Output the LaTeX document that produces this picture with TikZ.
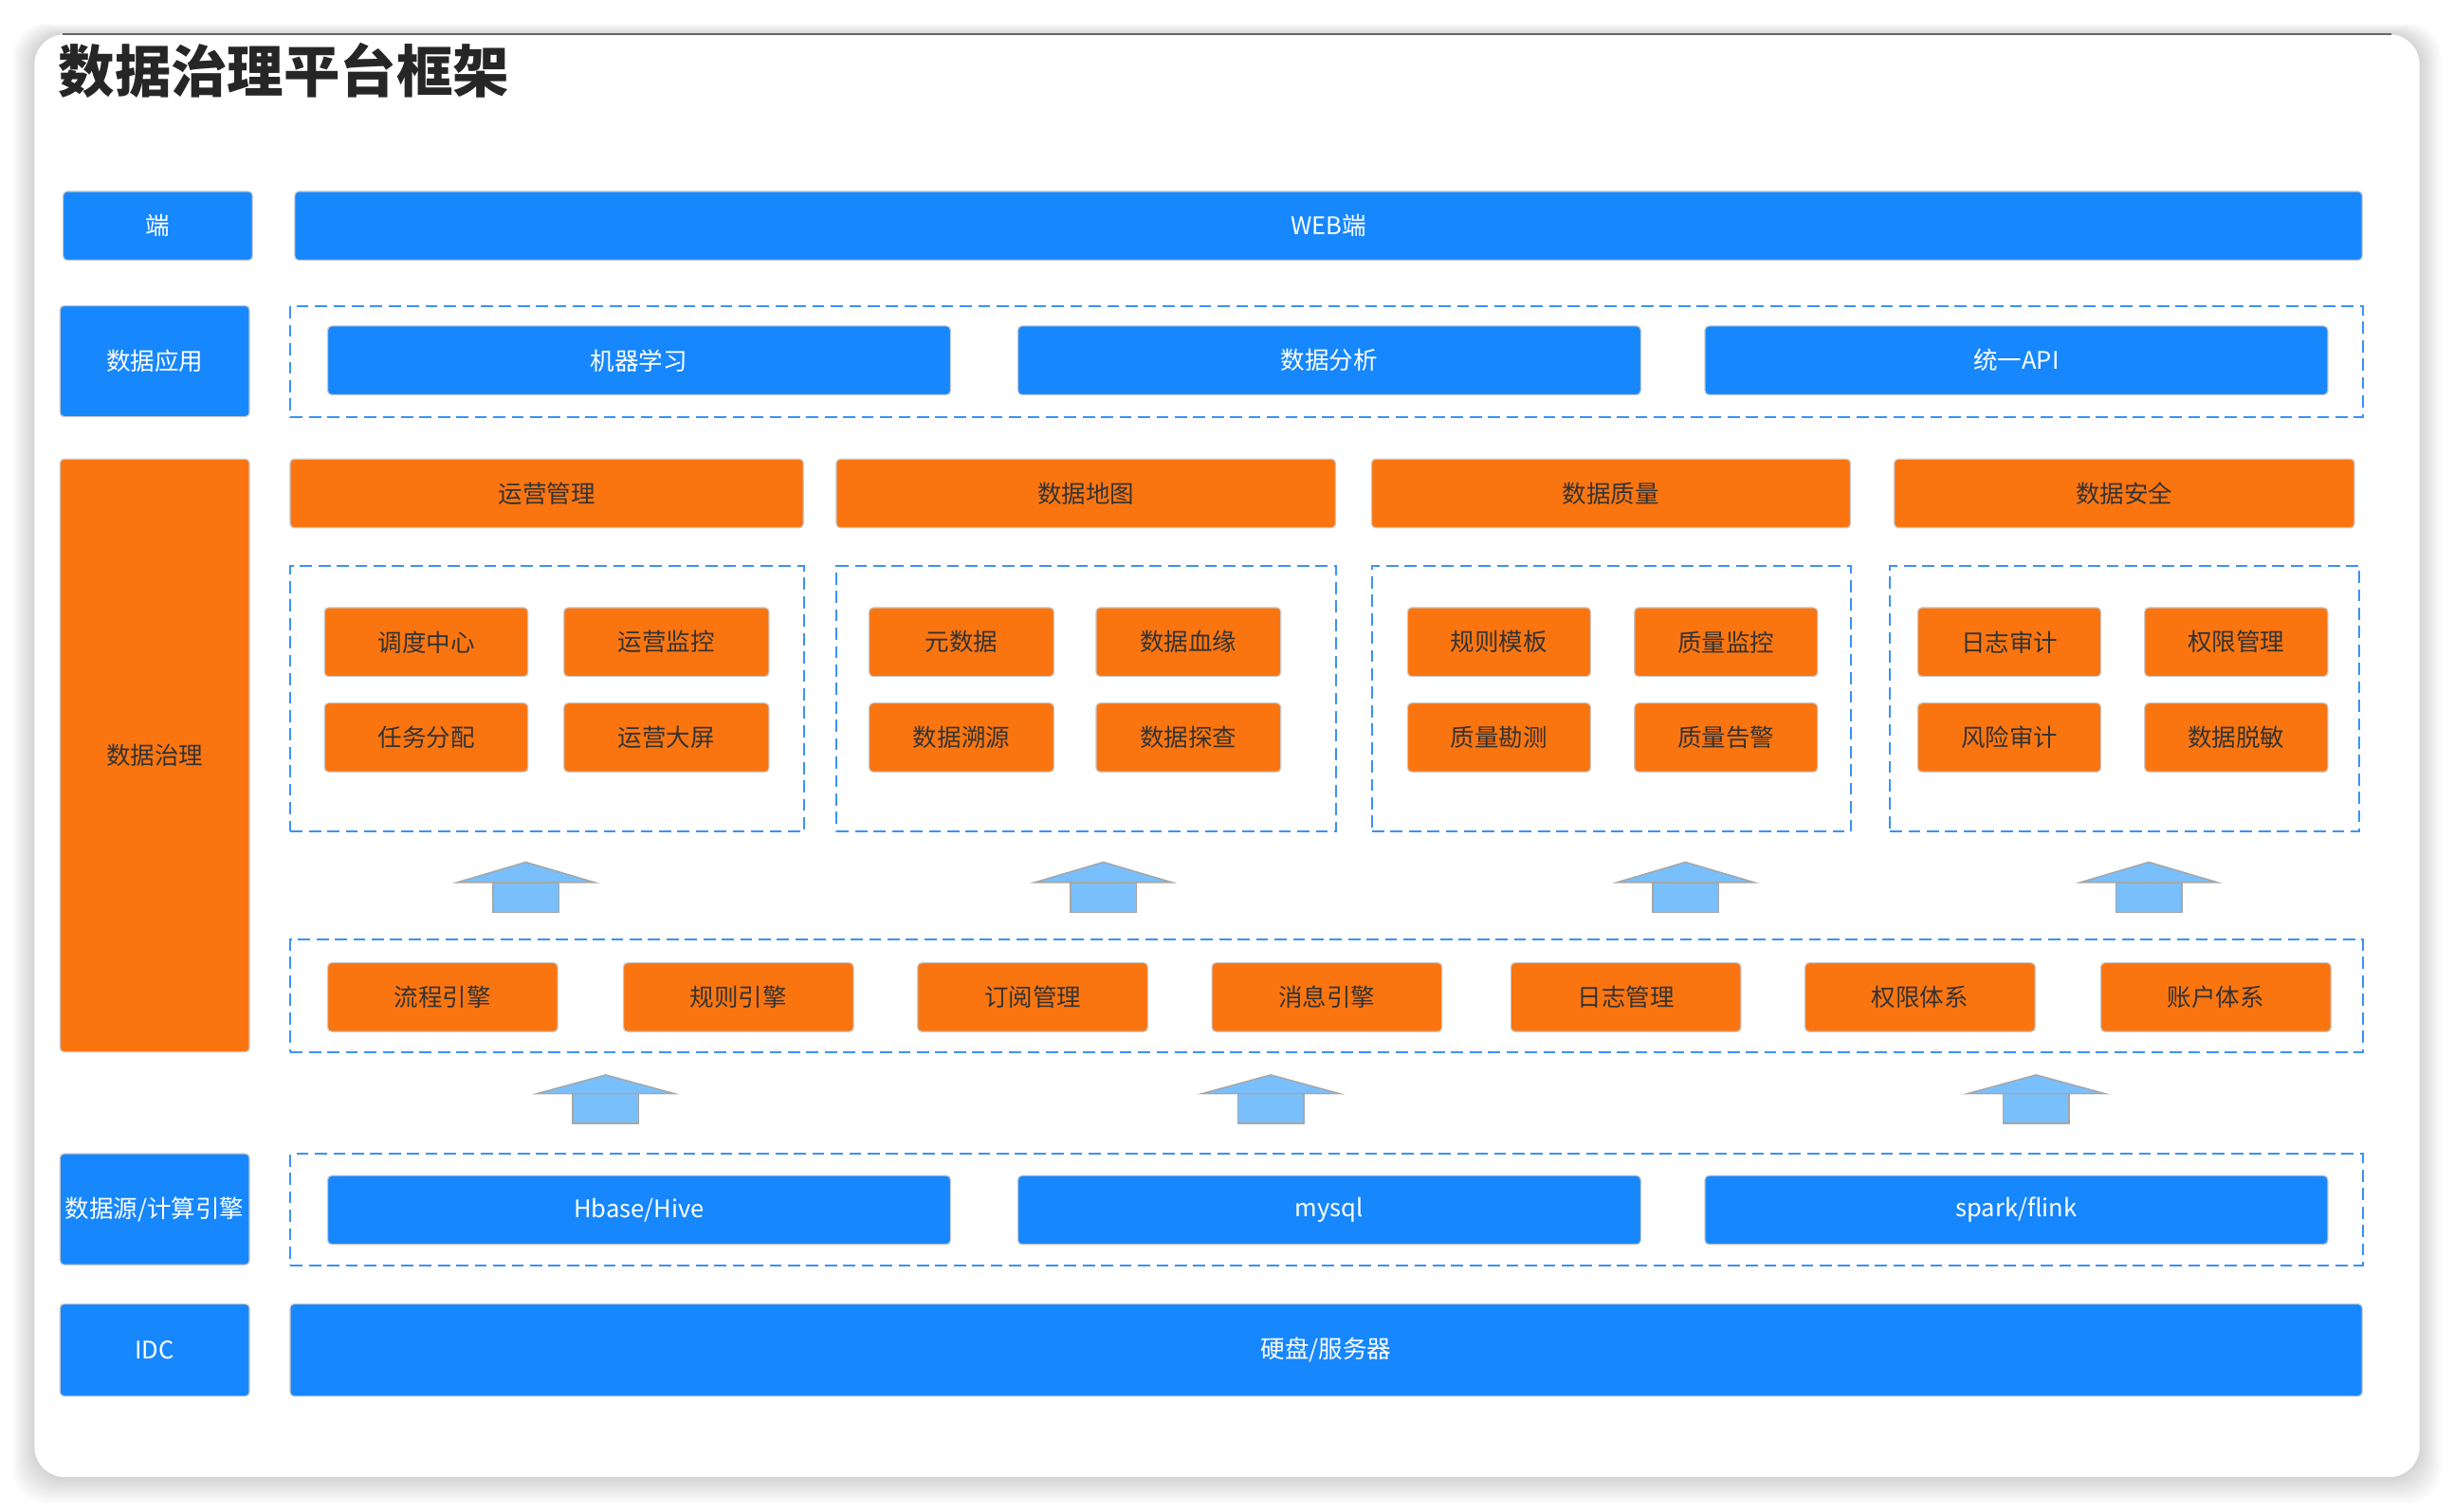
\documentclass[tikz,border=0pt]{standalone}
\usepackage{fontspec}
\setmainfont{Noto Sans CJK SC}
\usetikzlibrary{positioning}
\definecolor{cblue}{HTML}{1787FE}
\definecolor{corange}{HTML}{FA7510}
\definecolor{carrow}{HTML}{79BFFC}
\definecolor{cdash}{HTML}{3A92F6}
\definecolor{cedge}{HTML}{C9C9C9}
\definecolor{ctext}{HTML}{333333}
\definecolor{ctitle}{HTML}{262626}
\tikzset{
  every picture/.style={font=\fontsize{8.8}{10}\selectfont},
  dims/.style 2 args={minimum width=#1*0.02cm, minimum height=#2*0.02cm},
  blk/.style={draw=cedge, line width=0.4pt, rounded corners=1.5pt, inner sep=0pt, anchor=north west},
  bluebox/.style={blk, fill=cblue, text=white},
  orangebox/.style={blk, fill=corange, text=ctext},
  frame/.style={draw=cdash, line width=0.7pt, dash pattern=on 4.4pt off 2.3pt, inner sep=0pt, anchor=north west},
  uparrow/.style={fill=carrow, draw=black!35, line width=0.5pt},
  title/.style={font=\fontsize{20.5}{24}\selectfont\bfseries, text=ctitle, inner sep=0pt},
}

\begin{document}
\begin{tikzpicture}[x=0.02cm, y=-0.02cm]
  \useasboundingbox (0,0) rectangle (1568,966);
  \fill[white] (0,0) rectangle (1568,966);
  % card with soft shadow
  \foreach \s in {1,...,14}
    \fill[black, opacity=0.011, rounded corners=12pt] (22-\s,22-\s/2) rectangle (1546+\s,944+1.2*\s);
  \fill[white, rounded corners=11pt] (22,22) rectangle (1546,944);
  \draw[black!60, line width=0.8pt] (40,22) -- (1528,22);
  \node[title, anchor=west] (title) at (37,45) {数据治理平台框架};

  % 端
  \node[bluebox, dims={121}{44}] (lblEnd) at (40,122) {端};
  \node[bluebox, dims={1321}{44}] (web) at (188,122) {WEB端};

  % 数据应用
  \node[bluebox, dims={121}{71}] (lblApp) at (38,195) {数据应用};
  \node[frame, dims={1324}{71}] (appFrame) at (185,195) {};
  \foreach \x/\n/\t in {209/ml/机器学习, 650/ana/数据分析, 1089/api/统一API}
    \node[bluebox, dims={398}{44}] (\n) at (\x,208) {\t};

  % 数据治理
  \node[orangebox, dims={121}{379}] (lblGov) at (38,293) {数据治理};
  \foreach \x/\w/\n/\t in {185/328/ops/运营管理, 534/319/map/数据地图, 876/306/qual/数据质量, 1210/294/sec/数据安全}
    \node[orangebox, dims={\w}{44}] (\n) at (\x,293) {\t};
  \foreach \x/\w/\n in {185/328/opsFrame, 534/319/mapFrame, 876/306/qualFrame, 1207/300/secFrame}
    \node[frame, dims={\w}{170}] (\n) at (\x,361) {};
  \foreach \x/\w/\ta/\tb [count=\i] in {207/130/调度中心/任务分配, 360/131/运营监控/运营大屏,
      555/118/元数据/数据溯源, 700/118/数据血缘/数据探查, 899/117/规则模板/质量勘测,
      1044/117/质量监控/质量告警, 1225/117/日志审计/风险审计, 1370/117/权限管理/数据脱敏} {
    \node[orangebox, dims={\w}{44}] (top\i) at (\x,388) {\ta};
    \node[orangebox, dims={\w}{44}] (bot\i) at (\x,449) {\tb};
  }
  \foreach \ax in {336,705,1077,1373} {
    \draw[uparrow] (\ax-21,564) rectangle (\ax+21,583);
    \draw[uparrow] (\ax,551) -- (\ax+44,564) -- (\ax-44,564) -- cycle;
  }
  \node[frame, dims={1324}{72}] (engFrame) at (185,600) {};
  \foreach \x/\t [count=\i] in {209/流程引擎, 398/规则引擎, 586/订阅管理, 774/消息引擎, 965/日志管理, 1153/权限体系, 1342/账户体系}
    \node[orangebox, dims={147}{44}] (eng\i) at (\x,615) {\t};
  \foreach \ax in {387,812,1301} {
    \draw[uparrow] (\ax-21,699) rectangle (\ax+21,718);
    \draw[uparrow] (\ax,687) -- (\ax+44,699) -- (\ax-44,699) -- cycle;
  }

  % 数据源/计算引擎
  \node[bluebox, dims={121}{71}] (lblSrc) at (38,737) {数据源/计算引擎};
  \node[frame, dims={1324}{71}] (srcFrame) at (185,737) {};
  \foreach \x/\n/\t in {209/hbase/{Hbase/Hive}, 650/mysql/mysql, 1089/spark/{spark/flink}}
    \node[bluebox, dims={398}{44}] (\n) at (\x,751) {\t};

  % IDC
  \node[bluebox, dims={121}{59}] (lblIdc) at (38,833) {IDC};
  \node[bluebox, dims={1324}{59}] (disk) at (185,833) {硬盘/服务器};
\end{tikzpicture}
\end{document}
